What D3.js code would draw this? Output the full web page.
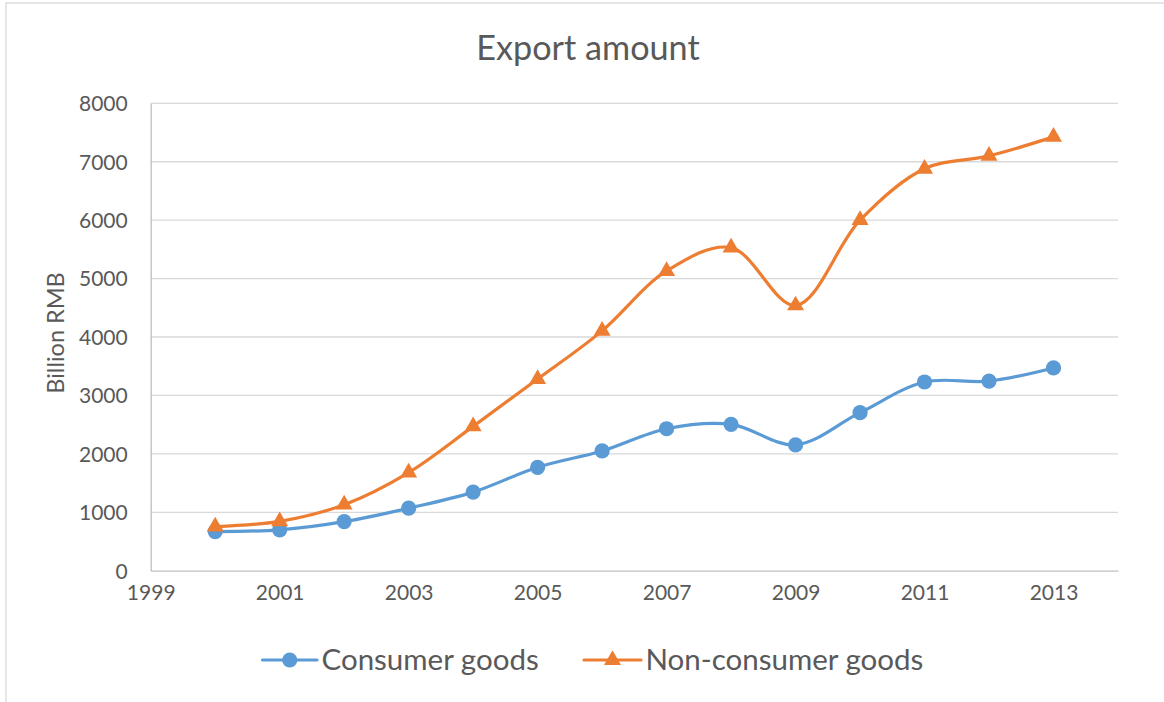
<!DOCTYPE html>
<html>
<head>
<meta charset="utf-8">
<script src="https://cdn.jsdelivr.net/npm/d3@7"></script>
<style>
  html, body { margin: 0; padding: 0; background: #fff; }
  svg { display: block; }
  text { font-family: Lato, "Open Sans", sans-serif; fill: #595959; }
</style>
</head>
<body>
<svg id="chart" width="1164" height="702"></svg>
<script>
const years = [2000, 2001, 2002, 2003, 2004, 2005, 2006, 2007, 2008, 2009, 2010, 2011, 2012, 2013];
const consumerGoods = [670, 700, 840, 1070, 1345, 1770, 2050, 2430, 2505, 2155, 2705, 3230, 3245, 3470];
const nonConsumerGoods = [755, 845, 1130, 1680, 2470, 3280, 4105, 5130, 5530, 4540, 6000, 6880, 7100, 7425];
const seriesNames = ["Consumer goods", "Non-consumer goods"];
const seriesColors = ["#5B9BD5", "#ED7D31"];
const xTicks = [1999, 2001, 2003, 2005, 2007, 2009, 2011, 2013];
const yTicks = [0, 1000, 2000, 3000, 4000, 5000, 6000, 7000, 8000];
const title = "Export amount";
const yTitle = "Billion RMB";

const svg = d3.select("#chart");
const W = 1164, H = 702;
const plot = { left: 150.7, right: 1118, top: 103.3, bottom: 570.7 };

// chart border
svg.append("rect").attr("x", 6).attr("y", 3).attr("width", W + 10).attr("height", H + 10)
  .attr("fill", "#fff").attr("stroke", "#D9D9D9").attr("stroke-width", 1.3);

const x = d3.scaleLinear().domain([1999, 2014]).range([plot.left, plot.right]);
const y = d3.scaleLinear().domain([0, 8000]).range([plot.bottom, plot.top]);

// gridlines
svg.append("g").selectAll("line").data(yTicks.filter(d => d > 0)).join("line")
  .attr("x1", plot.left).attr("x2", plot.right)
  .attr("y1", d => y(d)).attr("y2", d => y(d))
  .attr("stroke", "#D9D9D9").attr("stroke-width", 1.3);

// axes
const yAxis = svg.append("g").attr("transform", `translate(${plot.left},0)`)
  .call(d3.axisLeft(y).tickValues(yTicks).tickSize(0).tickPadding(23).tickFormat(d3.format("d")));
yAxis.select(".domain").attr("stroke", "#BFBFBF").attr("stroke-width", 1.3);
yAxis.selectAll("text").style("font-size", "21px").attr("fill", "#595959").attr("dy", "0.35em");

const xAxis = svg.append("g").attr("transform", `translate(0,${plot.bottom})`)
  .call(d3.axisBottom(x).tickValues(xTicks).tickSize(0).tickPadding(22).tickFormat(d3.format("d")));
xAxis.select(".domain").attr("stroke", "#BFBFBF").attr("stroke-width", 1.3);
xAxis.selectAll("text").style("font-size", "21px").attr("fill", "#595959").attr("dy", "0.35em");

// titles
svg.append("text").attr("x", 588).attr("y", 59.5).attr("text-anchor", "middle")
  .style("font-size", "34.2px").text(title);
svg.append("text").attr("transform", `translate(64,${(plot.top + plot.bottom) / 2 - 4}) rotate(-90)`)
  .attr("text-anchor", "middle").style("font-size", "23.5px").text(yTitle);

// lines
const allSeries = [consumerGoods, nonConsumerGoods];
const line = d3.line().x((d, i) => x(years[i])).y(d => y(d)).curve(d3.curveCatmullRom.alpha(0.5));
const triangle = d3.symbol().type(d3.symbolTriangle).size(125);

allSeries.forEach((vals, si) => {
  const g = svg.append("g");
  g.append("path").attr("d", line(vals)).attr("fill", "none")
    .attr("stroke", seriesColors[si]).attr("stroke-width", 3.2).attr("stroke-linecap", "round");
  if (si === 0) {
    g.selectAll("circle").data(vals).join("circle")
      .attr("cx", (d, i) => x(years[i])).attr("cy", d => y(d)).attr("r", 7.6)
      .attr("fill", seriesColors[si]);
  } else {
    g.selectAll("path.m").data(vals).join("path").attr("class", "m")
      .attr("transform", (d, i) => `translate(${x(years[i])},${y(d)})`)
      .attr("d", triangle).attr("fill", seriesColors[si]);
  }
});

// legend
const legendItems = [
  { lx1: 262.5, lx2: 317, tx: 321.5 },
  { lx1: 584, lx2: 641, tx: 645.5 }
];
const ly = 660;
legendItems.forEach((it, si) => {
  const g = svg.append("g");
  g.append("line").attr("x1", it.lx1).attr("x2", it.lx2).attr("y1", ly).attr("y2", ly)
    .attr("stroke", seriesColors[si]).attr("stroke-width", 3.2).attr("stroke-linecap", "round");
  const cx = (it.lx1 + it.lx2) / 2;
  if (si === 0) {
    g.append("circle").attr("cx", cx).attr("cy", ly).attr("r", 7.6).attr("fill", seriesColors[si]);
  } else {
    g.append("path").attr("transform", `translate(${cx},${ly})`).attr("d", triangle).attr("fill", seriesColors[si]);
  }
  g.append("text").attr("x", it.tx).attr("y", ly).attr("dy", "0.35em")
    .style("font-size", "29.5px").text(seriesNames[si]);
});
</script>
</body>
</html>
